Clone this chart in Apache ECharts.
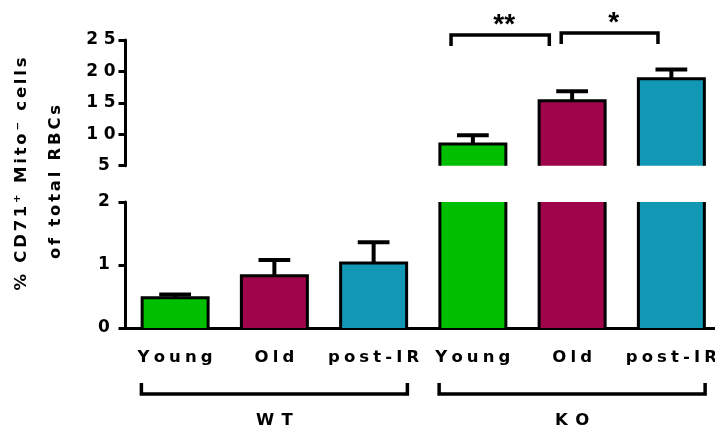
<!DOCTYPE html>
<html>
<head>
<meta charset="utf-8">
<script src="https://cdn.jsdelivr.net/npm/echarts@6/dist/echarts.min.js"></script>
<style>
  html, body { margin: 0; padding: 0; background: #fff; }
  #chart { width: 715px; height: 432px; }
</style>
</head>
<body>
<div id="chart"></div>
<script>
var groups = ['WT', 'KO'];
var ages = ['Young', 'Old', 'post-IR'];
var meanWT = [0.48, 0.83, 1.03];
var semWT = [0.05, 0.25, 0.33];
var meanKO = [8.45, 15.33, 18.83];
var semKO = [1.39, 1.51, 1.47];
var lowAxis = [0, 2, 1];     // min, max, step of the lower segment
var highAxis = [5, 25, 5];   // min, max, step of the upper segment
var sigPairs = [[3, 4, 25.8, '**'], [4, 5, 26.1, '*']];
var titleLines = ['% CD71\u207A Mito\u207B cells', 'of total RBCs'];
var barColors = ['#00be00', '#a0044a', '#1297b4'];

var FONT = '"DejaVu Sans", "Liberation Sans", sans-serif';
var STAR_FONT = '"Liberation Sans", Arial, sans-serif';

function spaced(s, gap) {
  return String(s).split('').join(gap || '\u2002');
}

var categories = ages.concat(ages);
var rows = [];
groups.forEach(function (g, gi) {
  var m = gi ? meanKO : meanWT;
  var s = gi ? semKO : semWT;
  ages.forEach(function (a, ai) {
    rows.push([gi * 3 + ai, m[ai], s[ai]]);
  });
});
var groupRows = groups.map(function (g, gi) {
  return [gi * 3, gi * 3 + 2, gi];
});

function barItem(yMin, yMax) {
  return function (params, api) {
    var i = api.value(0), v = api.value(1), e = api.value(2);
    if (v <= yMin) return;
    var band = api.size([1, 0])[0];
    var w = band * 0.665;
    var top = api.coord([i, Math.min(v, yMax)]);
    var base = api.coord([i, yMin]);
    var x0 = top[0] - w / 2, x1 = top[0] + w / 2;
    var edge = {stroke: '#000', lineWidth: 3, fill: 'none'};
    var kids = [{
      type: 'rect',
      shape: {x: x0, y: top[1], width: w, height: base[1] - top[1]},
      style: {fill: barColors[i % 3]}
    }];
    if (v > yMax) {
      // cut by the axis break: only the side edges
      kids.push({type: 'line', shape: {x1: x0, y1: base[1], x2: x0, y2: top[1]}, style: edge});
      kids.push({type: 'line', shape: {x1: x1, y1: base[1], x2: x1, y2: top[1]}, style: edge});
    } else {
      kids.push({
        type: 'polyline',
        shape: {points: [[x0, base[1]], [x0, top[1]], [x1, top[1]], [x1, base[1]]]},
        style: edge
      });
      var hi = api.coord([i, v + e]);
      var cap = band * 0.16;
      var err = {stroke: '#000', lineWidth: 4};
      kids.push({type: 'line', shape: {x1: top[0], y1: top[1], x2: top[0], y2: hi[1]}, style: err});
      kids.push({type: 'line', shape: {x1: top[0] - cap, y1: hi[1], x2: top[0] + cap, y2: hi[1]}, style: err});
    }
    return {type: 'group', children: kids};
  };
}

function sigItem(params, api) {
  var band = api.size([1, 0])[0];
  var d = sigPairs[params.dataIndex];
  var off = params.dataIndex === 0 ? [-0.22, -0.23] : [-0.11, -0.135];
  var a = api.coord([d[0], d[2]]), b = api.coord([d[1], d[2]]);
  var xl = a[0] + off[0] * band, xr = b[0] + off[1] * band, y = a[1];
  return {
    type: 'group',
    children: [{
      type: 'polyline',
      shape: {points: [[xl, y + 11], [xl, y], [xr, y], [xr, y + 11]]},
      style: {stroke: '#000', lineWidth: 3.5, fill: 'none'}
    }, {
      type: 'text',
      x: (xl + xr) / 2 + 4, y: y - 10,
      style: {
        text: d[3], font: 'bold 28px ' + STAR_FONT, fill: '#000',
        align: 'center', verticalAlign: 'middle', textAlign: 'center', textVerticalAlign: 'middle'
      }
    }]
  };
}

function groupItem(params, api) {
  var band = api.size([1, 0])[0];
  var l = api.coord([api.value(0), 0]), r = api.coord([api.value(1), 0]);
  var xl = l[0] - 0.34 * band, xr = r[0] + 0.34 * band;
  var y = l[1] + 66;
  return {
    type: 'group',
    children: [{
      type: 'polyline',
      shape: {points: [[xl, y - 11], [xl, y], [xr, y], [xr, y - 11]]},
      style: {stroke: '#000', lineWidth: 3.5, fill: 'none'}
    }, {
      type: 'text',
      x: (xl + xr) / 2, y: y + 27,
      style: {
        text: spaced(groups[api.value(2)], '\u2005\u2009'), font: 'bold 16.5px ' + FONT, fill: '#000',
        align: 'center', verticalAlign: 'middle', textAlign: 'center', textVerticalAlign: 'middle'
      }
    }]
  };
}

function tickText(v) {
  var s = String(v);
  // single digits keep the trailing letter gap, as in the source figure
  return s.length === 1 ? s + '\u2004' : spaced(s, '\u2004');
}

function valueAxis(gridIndex, ax) {
  return {
    type: 'value',
    gridIndex: gridIndex,
    min: ax[0], max: ax[1], interval: ax[2],
    axisLine: {show: true, lineStyle: {color: '#000', width: 3}},
    axisTick: {show: true, length: 7, lineStyle: {color: '#000', width: 3}},
    axisLabel: {
      margin: 10, color: '#000', fontSize: 17, fontWeight: 'bold', fontFamily: FONT,
      formatter: tickText
    },
    splitLine: {show: false}
  };
}

var chart = echarts.init(document.getElementById('chart'), null, {renderer: 'canvas'});
var option = {
  backgroundColor: '#fff',
  animation: false,
  textStyle: {fontFamily: FONT},
  grid: [
    {left: 125.5, width: 595.5, top: 202, height: 126, outerBoundsMode: 'none'},
    {left: 125.5, width: 595.5, top: 40, height: 125.7, outerBoundsMode: 'none'}
  ],
  xAxis: [{
    type: 'category',
    gridIndex: 0,
    data: categories,
    axisLine: {lineStyle: {color: '#000', width: 3}},
    axisTick: {alignWithLabel: true, length: 7, lineStyle: {color: '#000', width: 2.5}},
    axisLabel: {
      interval: 0, margin: 21, color: '#000', fontSize: 16.5, fontWeight: 'bold', fontFamily: FONT,
      formatter: function (v) { return spaced(v, '\u2005'); }
    }
  }, {
    type: 'category',
    gridIndex: 1,
    data: categories,
    show: false
  }],
  yAxis: [valueAxis(0, lowAxis), valueAxis(1, highAxis)],
  graphic: [{
    type: 'text', x: 22, y: 174, rotation: Math.PI / 2,
    style: {
      text: spaced(titleLines[0], '\u2006'), font: 'bold 16.5px ' + FONT, fill: '#000',
      align: 'center', verticalAlign: 'middle', textAlign: 'center', textVerticalAlign: 'middle'
    }
  }, {
    type: 'text', x: 56, y: 182, rotation: Math.PI / 2,
    style: {
      text: spaced(titleLines[1], '\u2006'), font: 'bold 16.5px ' + FONT, fill: '#000',
      align: 'center', verticalAlign: 'middle', textAlign: 'center', textVerticalAlign: 'middle'
    }
  }],
  series: [{
    type: 'custom',
    name: 'lower',
    xAxisIndex: 0, yAxisIndex: 0,
    renderItem: barItem(lowAxis[0], lowAxis[1]),
    encode: {x: 0, y: 1},
    data: rows,
    silent: true
  }, {
    type: 'custom',
    name: 'upper',
    xAxisIndex: 1, yAxisIndex: 1,
    renderItem: barItem(highAxis[0], highAxis[1]),
    encode: {x: 0, y: 1},
    data: rows,
    silent: true
  }, {
    type: 'custom',
    name: 'sig',
    xAxisIndex: 1, yAxisIndex: 1,
    renderItem: sigItem,
    encode: {x: [0, 1], y: 2},
    data: sigPairs.map(function (p) { return [p[0], p[1], p[2]]; }),
    silent: true
  }, {
    type: 'custom',
    name: 'groups',
    xAxisIndex: 0, yAxisIndex: 0,
    renderItem: groupItem,
    encode: {x: [0, 1]},
    data: groupRows,
    silent: true
  }]
};
chart.setOption(option);
window.onresize = chart.resize;
</script>
</body>
</html>
